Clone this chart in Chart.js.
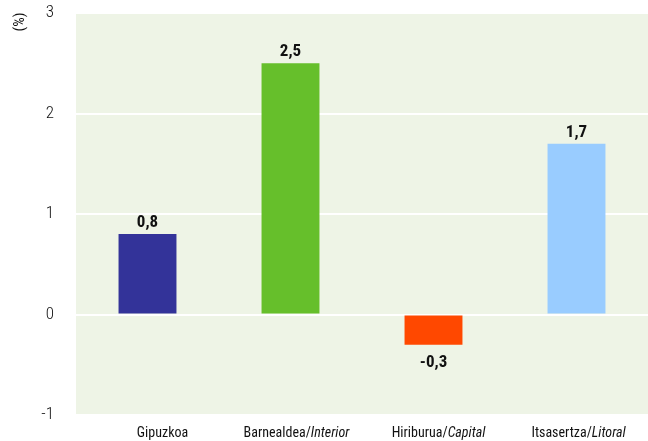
<!DOCTYPE html>
<html>
<head>
<meta charset="utf-8">
<script src="https://cdn.jsdelivr.net/npm/chart.js@4"></script>
<style>
  html, body { margin: 0; padding: 0; background: #fff; }
  #wrap { width: 648px; height: 441px; }
</style>
</head>
<body>
<div id="wrap"><canvas id="chart" width="648" height="441"></canvas></div>
<script>
// data
const regions = ['Gipuzkoa', 'Barnealdea', 'Hiriburua', 'Itsasertza'];
const regionsEs = ['', 'Interior', 'Capital', 'Litoral'];
const values = [0.8, 2.5, -0.3, 1.7];
const yTicks = [-1, 0, 1, 2, 3];

const barColors = ['#333399', '#66bf2b', '#ff4800', '#99ccff'];
const labelShift = [15, 6, 5, 2]; // category labels sit a bit right of the bars
const FONT = "'Roboto Condensed', 'Roboto', sans-serif";

const bgPlugin = {
  id: 'bg',
  beforeDraw(chart) {
    const { ctx, chartArea: a } = chart;
    ctx.save();
    ctx.fillStyle = '#eef4e6';
    ctx.fillRect(a.left, a.top, a.right - a.left, a.bottom - a.top);
    ctx.restore();
  }
};

const labelsPlugin = {
  id: 'labels',
  afterDatasetsDraw(chart) {
    const { ctx } = chart;
    const meta = chart.getDatasetMeta(0);
    const xScale = chart.scales.x;
    ctx.save();
    ctx.fillStyle = '#111';

    // value labels
    ctx.font = 'bold 17px ' + FONT;
    ctx.textAlign = 'center';
    ctx.textBaseline = 'alphabetic';
    meta.data.forEach((bar, i) => {
      const v = values[i];
      const txt = v.toFixed(1).replace('.', ',');
      if (v >= 0) ctx.fillText(txt, bar.x, bar.y - 7);
      else ctx.fillText(txt, bar.x, bar.y + 22);
    });

    // category labels, Spanish part in italic
    ctx.textAlign = 'left';
    const y = chart.chartArea.bottom + 22;
    regions.forEach((name, i) => {
      const cx = xScale.getPixelForValue(i) + labelShift[i];
      const first = regionsEs[i] ? name + '/' : name;
      ctx.font = '14px ' + FONT;
      const w1 = ctx.measureText(first).width;
      ctx.font = 'italic 14px ' + FONT;
      const w2 = regionsEs[i] ? ctx.measureText(regionsEs[i]).width : 0;
      const x = cx - (w1 + w2) / 2;
      ctx.font = '14px ' + FONT;
      ctx.fillText(first, x, y);
      if (regionsEs[i]) {
        ctx.font = 'italic 14px ' + FONT;
        ctx.fillText(regionsEs[i], x + w1, y);
      }
    });

    // unit
    ctx.translate(20, 22);
    ctx.rotate(-Math.PI / 2);
    ctx.font = '15px ' + FONT;
    ctx.textAlign = 'center';
    ctx.textBaseline = 'middle';
    ctx.fillText('(%)', 0, 0);
    ctx.restore();
  }
};

new Chart(document.getElementById('chart'), {
  type: 'bar',
  data: {
    labels: regions,
    datasets: [{
      data: values,
      backgroundColor: barColors,
      barPercentage: 0.405,
      categoryPercentage: 1
    }]
  },
  options: {
    responsive: false,
    animation: false,
    layout: { padding: { top: 13, right: 0, bottom: 0, left: 0 } },
    plugins: { legend: { display: false }, tooltip: { enabled: false } },
    scales: {
      x: {
        grid: { display: false, drawTicks: false },
        border: { display: false },
        ticks: { display: false },
        afterFit(scale) { scale.height = 26; }
      },
      y: {
        min: -1,
        max: 3,
        afterBuildTicks(scale) { scale.ticks = yTicks.map(v => ({ value: v })); },
        afterFit(scale) {
          scale.width = 76;
          scale.paddingTop = 0;
          scale.paddingBottom = 0;
        },
        grid: { color: '#ffffff', lineWidth: 2, drawTicks: false },
        border: { display: false },
        ticks: {
          padding: 22,
          color: '#111',
          font: { family: FONT, size: 17, weight: '300' },
          callback: v => String(v)
        }
      }
    }
  },
  plugins: [bgPlugin, labelsPlugin]
});
</script>
</body>
</html>
